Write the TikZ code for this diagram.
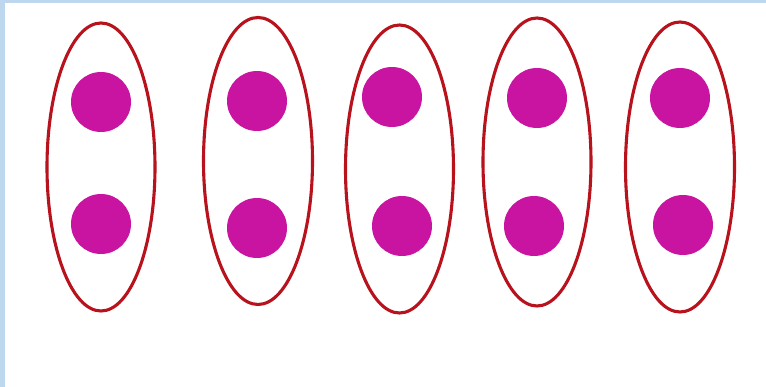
\documentclass[tikz,border=0pt]{standalone}
\begin{document}
\begin{tikzpicture}[x=1pt,y=-1pt,
  ring/.style={draw=ringred,line width=3.1pt},
  dot/.style={fill=dotmag,draw=none}]
\definecolor{ringred}{RGB}{184,18,28}
\definecolor{dotmag}{RGB}{200,20,160}
\definecolor{edgeblue}{RGB}{189,215,238}
\useasboundingbox (0,0) rectangle (766,387);
\fill[white] (0,0) rectangle (766,387);
\fill[edgeblue] (0,0) rectangle (5,387);
\fill[edgeblue] (0,0) rectangle (766,3);
% groups
\draw[ring] (101,167) ellipse [x radius=54,y radius=144];
\fill[dot] (101,102) circle [radius=30];
\fill[dot] (101,224) circle [radius=30];
\draw[ring] (258,161) ellipse [x radius=54.5,y radius=143.5];
\fill[dot] (257,101) circle [radius=30];
\fill[dot] (257,228) circle [radius=30];
\draw[ring] (399.5,169) ellipse [x radius=54,y radius=144];
\fill[dot] (392,97) circle [radius=30];
\fill[dot] (402,226) circle [radius=30];
\draw[ring] (537,162) ellipse [x radius=54,y radius=144];
\fill[dot] (537,98) circle [radius=30];
\fill[dot] (534,226) circle [radius=30];
\draw[ring] (680,167) ellipse [x radius=54.5,y radius=145];
\fill[dot] (680,98) circle [radius=30];
\fill[dot] (683,225) circle [radius=30];
\end{tikzpicture}
\end{document}
